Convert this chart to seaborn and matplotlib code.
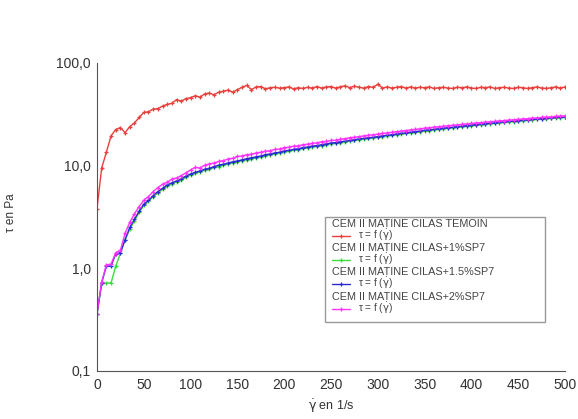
import numpy as np
import pandas as pd
import matplotlib
matplotlib.use("Agg")
import matplotlib.pyplot as plt
from matplotlib.lines import Line2D
from matplotlib.patches import Rectangle
from matplotlib.ticker import FixedLocator, FuncFormatter, LogLocator, NullFormatter, MultipleLocator
import seaborn as sns

# ---------------- data ----------------
shear_rate = [0, 5, 10, 15, 20, 25, 30, 35, 40, 45, 50, 55, 60, 65, 70, 75, 80, 85, 90, 95,
              100, 105, 110, 115, 120, 125, 130, 135, 140, 145, 150, 155, 160, 165, 170, 175, 180, 185, 190, 195,
              200, 205, 210, 215, 220, 225, 230, 235, 240, 245, 250, 255, 260, 265, 270, 275, 280, 285, 290, 295,
              300, 305, 310, 315, 320, 325, 330, 335, 340, 345, 350, 355, 360, 365, 370, 375, 380, 385, 390, 395,
              400, 405, 410, 415, 420, 425, 430, 435, 440, 445, 450, 455, 460, 465, 470, 475, 480, 485, 490, 495, 500]

tau_temoin = [3.8, 9.5, 13.5, 19.5, 22.5, 23.5, 21.0, 24.0, 26.0, 29.5, 33.0, 33.5, 35.5, 36.0, 38.0, 39.5, 40.5, 44.0, 42.5, 45.0,
              46.0, 48.0, 46.5, 50.0, 51.0, 49.0, 52.0, 53.0, 54.5, 52.0, 55.0, 58.0, 60.5, 55.0, 58.5, 59.0, 56.0, 57.5, 58.0, 57.0,
              57.5, 58.5, 56.0, 57.5, 56.5, 58.0, 57.0, 59.0, 57.0, 58.5, 59.0, 57.0, 58.5, 60.0, 57.5, 59.5, 58.0, 57.0, 59.0, 58.0,
              62.0, 57.0, 58.5, 57.0, 58.0, 59.0, 57.0, 58.5, 57.0, 58.0, 57.5, 58.5, 56.5, 57.5, 58.0, 57.0, 56.5, 58.0, 57.5, 58.5,
              57.0, 56.5, 58.0, 57.5, 58.5, 56.5, 57.5, 58.0, 57.0, 56.5, 58.0, 57.5, 56.5, 57.5, 58.5, 57.0, 56.5, 57.5, 58.5, 57.0, 58.5]

tau_1pct = [0.36, 0.72, 0.72, 0.72, 1.05, 1.40, 1.90, 2.40, 2.90, 3.50, 4.10, 4.50, 5.00, 5.40, 5.90, 6.30, 6.60, 7.00, 7.20, 7.70,
            8.10, 8.40, 8.70, 9.00, 9.20, 9.60, 9.80, 10.1, 10.4, 10.6, 10.9, 11.2, 11.4, 11.7, 11.9, 12.2, 12.5, 12.7, 13.0, 13.2,
            13.6, 13.8, 14.1, 14.3, 14.7, 14.9, 15.2, 15.4, 15.7, 16.0, 16.3, 16.5, 16.8, 17.0, 17.3, 17.6, 17.9, 18.1, 18.4, 18.6,
            18.9, 19.2, 19.5, 19.7, 20.1, 20.3, 20.6, 20.9, 21.2, 21.4, 21.8, 22.0, 22.3, 22.6, 22.9, 23.1, 23.4, 23.7, 24.0, 24.2,
            24.5, 24.8, 25.1, 25.3, 25.6, 25.9, 26.1, 26.4, 26.7, 26.9, 27.2, 27.4, 27.7, 27.9, 28.2, 28.4, 28.7, 28.9, 29.2, 29.4, 29.6]

tau_15pct = [0.36, 0.72, 1.05, 1.05, 1.38, 1.42, 1.90, 2.50, 3.00, 3.60, 4.20, 4.60, 5.10, 5.60, 6.00, 6.50, 6.80, 7.10, 7.40, 7.90,
             8.30, 8.60, 8.90, 9.20, 9.40, 9.80, 10.1, 10.3, 10.6, 10.9, 11.1, 11.4, 11.7, 11.9, 12.2, 12.4, 12.8, 13.0, 13.3, 13.5,
             13.9, 14.1, 14.4, 14.6, 15.0, 15.2, 15.5, 15.7, 16.0, 16.3, 16.6, 16.8, 17.1, 17.3, 17.6, 17.9, 18.2, 18.4, 18.7, 18.9,
             19.2, 19.5, 19.8, 20.0, 20.4, 20.6, 20.9, 21.2, 21.5, 21.7, 22.1, 22.3, 22.6, 22.9, 23.2, 23.4, 23.7, 24.0, 24.3, 24.5,
             24.8, 25.1, 25.4, 25.6, 25.9, 26.2, 26.4, 26.7, 27.0, 27.2, 27.5, 27.7, 28.0, 28.2, 28.5, 28.7, 29.0, 29.2, 29.5, 29.7, 29.9]

tau_2pct = [0.36, 0.74, 1.08, 1.10, 1.42, 1.50, 2.20, 2.80, 3.40, 4.00, 4.60, 5.00, 5.60, 6.10, 6.60, 6.90, 7.40, 7.60, 8.00, 8.50,
            9.10, 9.60, 9.50, 10.1, 10.4, 10.6, 11.0, 11.2, 11.6, 11.8, 12.3, 12.4, 12.8, 12.9, 13.3, 13.5, 13.8, 14.0, 14.4, 14.5,
            15.0, 15.1, 15.5, 15.6, 16.0, 16.2, 16.5, 16.7, 17.1, 17.2, 17.6, 17.7, 18.1, 18.3, 18.7, 18.9, 19.2, 19.5, 19.8, 20.0,
            20.3, 20.6, 20.9, 21.1, 21.5, 21.7, 22.0, 22.3, 22.6, 22.8, 23.2, 23.4, 23.7, 24.0, 24.2, 24.5, 24.7, 25.0, 25.3, 25.5,
            25.8, 26.0, 26.3, 26.5, 26.8, 27.0, 27.3, 27.5, 27.8, 28.0, 28.2, 28.5, 28.7, 29.0, 29.2, 29.5, 29.7, 29.9, 30.2, 30.4, 30.6]

series_names = ["CEM II MATINE CILAS TEMOIN", "CEM II MATINE CILAS+1%SP7",
                "CEM II MATINE CILAS+1.5%SP7", "CEM II MATINE CILAS+2%SP7"]
series_values = [tau_temoin, tau_1pct, tau_15pct, tau_2pct]
series_colors = ["#e8403c", "#3ddc3d", "#2a2ad2", "#ff33ff"]

x_ticks = [0, 50, 100, 150, 200, 250, 300, 350, 400, 450, 500]
y_ticks = [0.1, 1, 10, 100]
y_tick_labels = ["0,1", "1,0", "10,0", "100,0"]
legend_sub = r"τ = f ($\dot{\mathrm{\gamma}}$)"
x_label = r"$\dot{\mathrm{\gamma}}$ en 1/s"
y_label = "τ en Pa"

# ---------------- figure ----------------
sns.set_style("white")
plt.rcParams["font.family"] = ["Liberation Sans", "DejaVu Sans"]
plt.rcParams["mathtext.fontset"] = "dejavusans"

W, H = 578, 419
fig = plt.figure(figsize=(W / 100, H / 100), dpi=100)
ax = fig.add_axes([97 / W, 1 - 371 / H, (565 - 97) / W, (371 - 63) / H])

frames = []
for name, vals in zip(series_names, series_values):
    frames.append(pd.DataFrame({"x": shear_rate, "tau": vals, "serie": name}))
df = pd.concat(frames, ignore_index=True)

sns.lineplot(data=df, x="x", y="tau", hue="serie", hue_order=series_names,
             palette=dict(zip(series_names, series_colors)), marker="+",
             markersize=3.5, markeredgewidth=0.9, linewidth=1.0, ax=ax,
             legend=False, sort=False, estimator=None)
for ln in ax.lines:
    ln.set_markeredgecolor(ln.get_color())

ax.set_yscale("log")
ax.set_xlim(0, 500)
ax.set_ylim(0.1, 100)

lab_map = dict(zip(y_ticks, y_tick_labels))

def yfmt(v, p):
    for k, s in lab_map.items():
        if abs(np.log10(v) - np.log10(k)) < 1e-6:
            return s
    return ""

ax.xaxis.set_major_locator(FixedLocator(x_ticks))
ax.xaxis.set_minor_locator(MultipleLocator(10))
ax.yaxis.set_major_locator(FixedLocator(y_ticks))
ax.yaxis.set_major_formatter(FuncFormatter(yfmt))
ax.yaxis.set_minor_locator(LogLocator(base=10, subs=np.arange(2, 10)))
ax.yaxis.set_minor_formatter(NullFormatter())

for s in ["top", "right"]:
    ax.spines[s].set_visible(False)
for s in ["left", "bottom"]:
    ax.spines[s].set_color("#555555")
    ax.spines[s].set_linewidth(0.8)

ax.tick_params(axis="both", which="major", direction="out", length=3, width=0.7,
               color="#555555", labelsize=10, labelcolor="#333333", pad=1.5)
ax.tick_params(axis="both", which="minor", direction="out", length=1.5, width=0.5, color="#777777")
ax.tick_params(axis="x", which="major", pad=2)

ax.set_xlabel(x_label, fontsize=9, color="#333333", labelpad=4)
ax.set_ylabel(y_label, fontsize=8.5, color="#333333")
ax.yaxis.set_label_coords((17 - 97) / 468, (371 - 213) / 308)
ax.grid(False)

# ---------------- legend box (drawn manually, figure pixel coords) ----------------
def fx(px):
    return px / W

def fy(py):
    return 1 - py / H

fig.patches.append(Rectangle((fx(325), fy(322)), fx(545) - fx(325), fy(217) - fy(322),
                             transform=fig.transFigure, fill=True, facecolor="white",
                             edgecolor="#999999", linewidth=1.0, zorder=5))
rows = [224, 236, 248, 260, 272, 284, 297, 309]
for i, (name, col) in enumerate(zip(series_names, series_colors)):
    yh = rows[2 * i]
    yl = rows[2 * i + 1]
    fig.text(fx(332), fy(yh), name, fontsize=7.8, color="#444444", va="center", ha="left", zorder=6)
    fig.lines.append(Line2D([fx(332), fx(350)], [fy(yl), fy(yl)], transform=fig.transFigure,
                            color=col, linewidth=1.0, marker=None, zorder=6))
    fig.lines.append(Line2D([fx(341)], [fy(yl)], transform=fig.transFigure,
                            color=col, marker="+", markersize=3.5, markeredgewidth=0.9, zorder=6))
    fig.text(fx(358), fy(yl) + 0.002, legend_sub, fontsize=7.2, color="#444444", va="center", ha="left", zorder=6)

fig.savefig("out.png", dpi=100)
